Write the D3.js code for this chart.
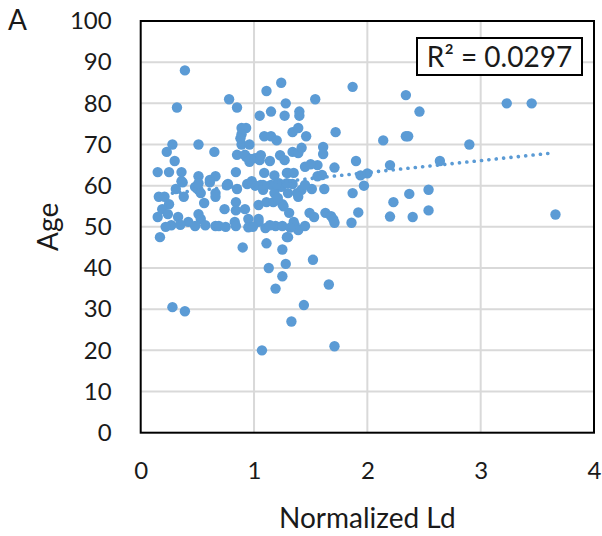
<!DOCTYPE html>
<html><head><meta charset="utf-8">
<script src="https://cdn.jsdelivr.net/npm/d3@7/dist/d3.min.js"></script>
<style>
body{margin:0;background:#fff;}
text{font-family:Lato, "Open Sans", sans-serif;fill:#1a1a1a;}
</style></head>
<body><svg id="c" width="602" height="536"></svg>
<script>
// Normalized Ld values
const ldValues = [
0.39,0.32,0.78,0.85,1.11,1.24,1.87,1.54,1.28,1.15,1.05,1.27,1.40,1.40,2.34,2.46,3.23,3.45,
0.89,0.93,0.89,1.09,1.15,1.20,1.34,1.39,1.46,1.72,2.34,2.36,2.14,2.90,
0.28,0.51,0.89,0.96,0.88,1.61,1.61,0.23,0.65,0.30,
0.85,0.92,1.01,0.96,1.05,1.06,1.14,1.23,1.27,1.34,1.39,1.42,1.56,1.71,1.90,2.20,2.64,
0.15,0.25,0.36,0.84,1.29,1.30,1.35,0.51,0.66,0.61,0.36,0.98,1.56,1.94,2.00,1.60,
0.77,0.85,0.31,0.48,0.51,1.06,1.15,1.22,1.97,1.30,1.38,1.42,1.51,1.62,1.87,2.37,2.54,
0.16,0.21,0.38,0.53,0.66,0.66,1.39,0.56,0.25,0.84,1.25,1.11,1.04,1.17,2.23,
0.19,0.74,0.84,0.92,1.26,1.31,2.54,1.92,1.49,1.63,3.66,
0.15,0.24,0.33,0.51,0.53,0.95,1.53,1.68,2.20,2.40,
0.27,0.42,0.48,0.66,0.69,0.83,0.84,0.95,1.04,1.10,1.19,1.36,1.35,1.71,1.86,1.70,1.04,
0.17,1.30,0.90,1.11,1.25,1.28,1.13,1.25,1.19,1.52,1.66,1.44,1.33,1.07,1.71,0.28,0.39,
1.39,1.29,
0.22,0.35,0.57,0.75,0.99,1.14,1.25,1.32,1.45,
1.01,1.08,1.18,1.21,1.24,1.34,1.45,1.18,1.09,
0.37,0.51,0.61,0.76,0.94,1.08,1.20,1.29,
0.93,0.97,1.45,1.50
];
// Age values (same order)
const ageValues = [
88,79,81,79,83,85,84,81,80,78,77,77,78,77,82,78,80,80,
74,74,72.5,72,72,71,73,74,72,73,72,72,71,70,
70,70,70,70,71.5,69.4,67.7,68.2,68.2,66,
67.5,67.5,66.7,65.8,66.2,67.4,66,67.4,66.2,68.2,67.9,69.2,65,64.4,66,65,66,
63.3,63.3,63.3,63.3,63.1,63.1,63.1,62.3,62.3,61.4,61.1,61.1,62.3,62.5,63,62.6,
60.4,59.2,59.2,59.7,59,60.2,60.2,60.6,60,58.2,58.2,59,59.2,59.2,58.2,58,59,
57.3,57.3,57.3,58.2,58.2,57.3,57.3,55.8,55.5,56,55.5,56,55.3,56,56,
54.3,54.3,54,54.3,55,53.4,54,53.5,53.4,53.4,53,
52.4,53.1,52.4,53.1,51.9,51.9,52.4,52.6,52.5,52.4,
50.4,51.2,50.2,50.2,50.2,51.2,50.2,49.9,51.2,49.7,50.2,50.4,51.2,51,51,51.8,51.9,
47.5,47.5,45,46,44.5,41,40,38,35,42,36,31,27,20,21,30.5,29.5,
49.2,47.5,
50,50.5,50.4,50,50,50.4,50.2,49.8,50.2,
60,59,58.2,57,59.7,60.4,60.2,62.5,63.1,
60.8,60.6,60.8,60.1,60.4,60.2,60.4,60.6,
67,66.5,64.6,65.2
];
// Linear trendline endpoints
const trendX = [0.15, 3.62];
const trendY = [57.8, 67.9];
const xTicks = [0,1,2,3,4];
const yTicks = [0,10,20,30,40,50,60,70,80,90,100];
const rSquaredLabel = "R\u00B2 = 0.0297";

const svg = d3.select("#c");
const L=140.7, R=594, T=21, B=432.7;
const x = d3.scaleLinear().domain([0,4]).range([L,R]);
const y = d3.scaleLinear().domain([0,100]).range([B,T]);

// grid
svg.append("g").selectAll("line.h").data(yTicks.slice(1,-1)).join("line")
  .attr("x1",L).attr("x2",R).attr("y1",d=>y(d)).attr("y2",d=>y(d))
  .attr("stroke","#d9d9d9").attr("stroke-width",2);
svg.append("g").selectAll("line.v").data(xTicks.slice(1,-1)).join("line")
  .attr("y1",T).attr("y2",B).attr("x1",d=>x(d)).attr("x2",d=>x(d))
  .attr("stroke","#d9d9d9").attr("stroke-width",2);

// axes (labels)
const xa = svg.append("g").attr("transform",`translate(0,${B})`)
  .call(d3.axisBottom(x).tickValues(xTicks).tickSize(0).tickPadding(29).tickFormat(d3.format("d")));
xa.select(".domain").remove();
xa.selectAll("text").style("font-size","24px").style("font-family","Lato").attr("fill","#1a1a1a");
const ya = svg.append("g").attr("transform",`translate(${L},0)`)
  .call(d3.axisLeft(y).tickValues(yTicks).tickSize(0).tickPadding(29).tickFormat(d3.format("d")));
ya.select(".domain").remove();
ya.selectAll("text").style("font-size","24px").style("font-family","Lato").attr("fill","#1a1a1a");

// points
const pts = ldValues.map((v,i)=>({x:v,y:ageValues[i]}));
svg.append("g").selectAll("circle").data(pts).join("circle")
  .attr("cx",d=>x(d.x)).attr("cy",d=>y(d.y)).attr("r",5.2)
  .attr("fill","#5b9bd5");

// trendline
svg.append("line")
  .attr("x1",x(trendX[0])).attr("y1",y(trendY[0]))
  .attr("x2",x(trendX[1])).attr("y2",y(trendY[1]))
  .attr("stroke","#5b9bd5").attr("stroke-width",3.6)
  .attr("stroke-linecap","round").attr("stroke-dasharray","0.1 7.3");

// plot border
svg.append("rect").attr("x",L).attr("y",T).attr("width",R-L).attr("height",B-T)
  .attr("fill","none").attr("stroke","#000").attr("stroke-width",2);

// R² box
svg.append("rect").attr("x",417).attr("y",38).attr("width",165).attr("height",37)
  .attr("fill","#fff").attr("stroke","#000").attr("stroke-width",2);
svg.append("text").attr("x",499.5).attr("y",66.5).attr("text-anchor","middle")
  .style("font-size","28px").text(rSquaredLabel);

// titles
svg.append("text").attr("x",(L+R)/2).attr("y",528).attr("text-anchor","middle")
  .style("font-size","28px").text("Normalized Ld");
svg.append("text").attr("transform",`translate(58,${(T+B)/2}) rotate(-90)`)
  .attr("text-anchor","middle").style("font-size","28px").text("Age");
svg.append("text").attr("x",8).attr("y",30).style("font-size","28px").text("A");
</script></body></html>
